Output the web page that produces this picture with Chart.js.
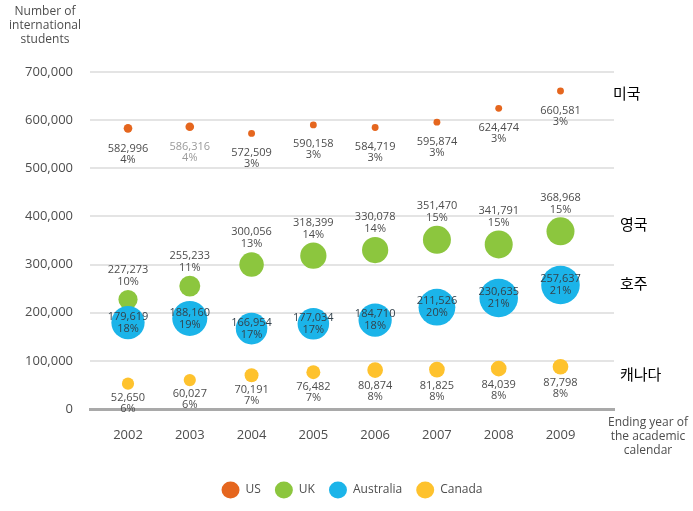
<!DOCTYPE html>
<html>
<head>
<meta charset="utf-8">
<script src="https://cdn.jsdelivr.net/npm/chart.js@4.4.0/dist/chart.umd.min.js"></script>
<style>
  html, body { margin: 0; padding: 0; background: #fff; }
  #wrap { width: 693px; height: 511px; }
</style>
</head>
<body>
<div id="wrap"><canvas id="chart"></canvas></div>
<script>
// DATA
var years = [2002, 2003, 2004, 2005, 2006, 2007, 2008, 2009];
var usStudents = [582996, 586316, 572509, 590158, 584719, 595874, 624474, 660581];
var usShare = [4, 4, 3, 3, 3, 3, 3, 3];
var ukStudents = [227273, 255233, 300056, 318399, 330078, 351470, 341791, 368968];
var ukShare = [10, 11, 13, 14, 14, 15, 15, 15];
var auStudents = [179619, 188160, 166954, 177034, 184710, 211526, 230635, 257637];
var auShare = [18, 19, 17, 17, 18, 20, 21, 21];
var caStudents = [52650, 60027, 70191, 76482, 80874, 81825, 84039, 87798];
var caShare = [6, 6, 7, 7, 8, 8, 8, 8];
var yTicks = [0, 100000, 200000, 300000, 400000, 500000, 600000, 700000];
var koreanNames = ['미국', '영국', '호주', '캐나다'];

var FONT = '"Open Sans", "DejaVu Sans", sans-serif';
var TXT = '#4d4d4d';

function fmt(n) { return n.toLocaleString('en-US'); }

function points(vals, shares) {
	return years.map(function(y, i) {
		return { x: y, y: vals[i], r: 0.8 + shares[i] * 0.88, share: shares[i] };
	});
}

// label placement per series: 'below', 'above', 'inside'
var series = [
	{ label: 'US', vals: usStudents, shares: usShare, color: '#e5661e', place: 'below', gap: 16, order: 2 },
	{ label: 'UK', vals: ukStudents, shares: ukShare, color: '#8cc63e', place: 'above', gap: 8, order: 1 },
	{ label: 'Australia', vals: auStudents, shares: auShare, color: '#1bb4e9', place: 'inside', gap: 0, order: 0 },
	{ label: 'Canada', vals: caStudents, shares: caShare, color: '#fec22d', place: 'below', gap: 8, order: 2 }
];

// DRAW VALUE + SHARE LABELS AND SIDE TEXT
var labelPlugin = {
	id: 'labelPlugin',
	afterDatasetsDraw: function(chart) {
		var ctx = chart.ctx;
		ctx.save();
		ctx.font = '11px ' + FONT;
		ctx.textAlign = 'center';
		ctx.textBaseline = 'middle';
		chart.data.datasets.forEach(function(ds, di) {
			var s = series[di];
			var meta = chart.getDatasetMeta(di);
			meta.data.forEach(function(el, i) {
				var r = el.options.radius;
				var v = fmt(s.vals[i]);
				var p = s.shares[i] + '%';
				var y1, y2;
				if (s.place === 'below') {
					y1 = el.y + r + s.gap;
					y2 = y1 + 11;
				} else if (s.place === 'above') {
					y2 = el.y - r - s.gap;
					y1 = y2 - 12;
				} else {
					y1 = el.y - 6;
					y2 = el.y + 6;
				}
				ctx.fillStyle = (s.place === 'inside') ? '#34424c' : TXT;
				if (di === 0 && i === 1) ctx.fillStyle = '#9a9a9a';
				ctx.fillText(v, el.x, y1);
				ctx.fillText(p, el.x, y2);
			});
		});

		// axis titles
		ctx.fillStyle = TXT;
		ctx.font = '12px ' + FONT;
		['Number of', 'international', 'students'].forEach(function(t, i) {
			ctx.fillText(t, 45, 12 + i * 14);
		});
		['Ending year of', 'the academic', 'calendar'].forEach(function(t, i) {
			ctx.fillText(t, 648, 423 + i * 14);
		});

		// korean names at right
		ctx.fillStyle = '#000';
		ctx.textAlign = 'left';
		ctx.font = '15px "Noto Sans CJK KR", sans-serif';
		var ky = [93, 224, 283, 374];
		koreanNames.forEach(function(t, i) {
			ctx.fillText(t, i === 0 ? 613 : 620, ky[i]);
		});
		ctx.restore();
	}
};

var chart1 = document.getElementById('chart').getContext('2d');
var studentChart = new Chart(chart1, {
	type: 'bubble',
	data: {
		datasets: series.map(function(s) {
			return {
				label: s.label,
				data: points(s.vals, s.shares),
				backgroundColor: s.color,
				borderColor: s.color,
				borderWidth: 0,
				order: s.order,
				clip: false
			};
		})
	},
	options: {
		responsive: true,
		maintainAspectRatio: false,
		animation: false,
		layout: {
			padding: { left: 0, right: 79, top: 72, bottom: 5 }
		},
		plugins: {
			tooltip: { enabled: false },
			legend: {
				display: true,
				position: 'bottom',
				fullSize: false,
				labels: {
					usePointStyle: true,
					pointStyle: 'circle',
					pointStyleWidth: 18,
					padding: 14,
					color: TXT,
					font: { family: FONT, size: 12 },
					sort: function(a, b) { return a.datasetIndex - b.datasetIndex; }
				}
			}
		},
		scales: {
			x: {
				type: 'linear',
				min: 2001.385,
				max: 2009.866,
				afterBuildTicks: function(axis) {
					axis.ticks = years.map(function(y) { return { value: y }; });
				},
				afterFit: function(axis) { axis.height = 61; },
				grid: { display: false, drawTicks: false },
				border: { display: true, color: '#a9a9a9', width: 3 },
				ticks: {
					padding: 18,
					color: TXT,
					font: { family: FONT, size: 13 },
					maxRotation: 0,
					callback: function(v) { return String(v); }
				}
			},
			y: {
				min: 0,
				max: 700000,
				afterBuildTicks: function(axis) {
					axis.ticks = yTicks.map(function(v) { return { value: v }; });
				},
				afterFit: function(axis) { axis.width = 90; },
				grid: {
					drawTicks: false,
					color: function(c) { return c.tick.value === 0 ? 'rgba(0,0,0,0)' : '#e4e4e4'; },
					lineWidth: 2
				},
				border: { display: false },
				ticks: {
					padding: 17,
					color: TXT,
					font: { family: FONT, size: 13 },
					callback: function(v) { return fmt(v); }
				}
			}
		}
	},
	plugins: [labelPlugin]
});
</script>
</body>
</html>
